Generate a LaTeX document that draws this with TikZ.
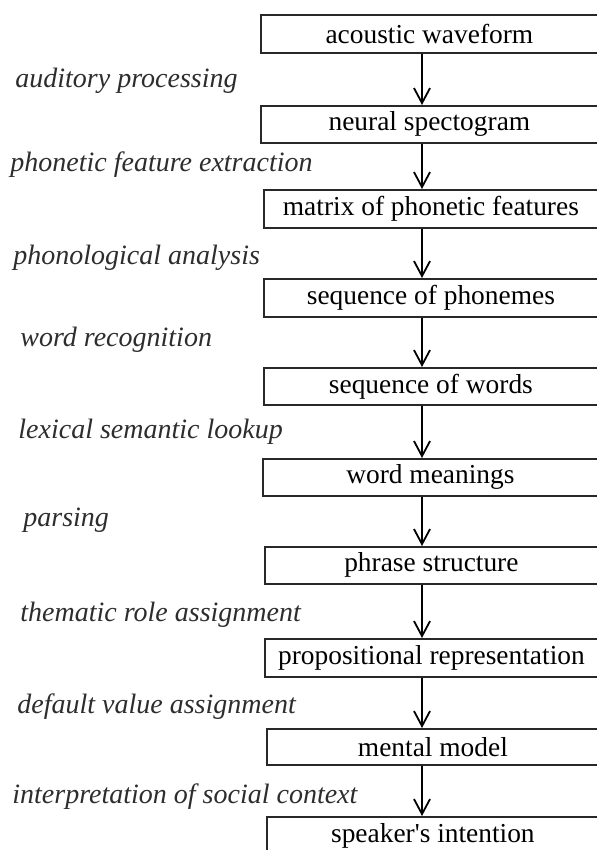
\documentclass[tikz,border=0pt]{standalone}
\usepackage{fontspec}
\setmainfont{Liberation Serif}
\usepackage{tikz}
\usetikzlibrary{positioning,calc}
\usetikzlibrary{arrows.meta}
\definecolor{EdgeGray}{RGB}{40,40,40}
\definecolor{TagGray}{RGB}{45,45,45}
\tikzset{
  stage/.style={draw=EdgeGray,line width=0.9pt,anchor=north west,inner sep=0pt,
    font=\fontsize{13.7}{16}\selectfont},
  proc/.style={anchor=west,inner sep=0pt,text=TagGray,
    font=\fontsize{14}{16}\selectfont\itshape},
  link/.style={draw=black,line width=0.9pt,-{Straight Barb[length=7.5pt,width=8pt,line width=0.9pt]}},
}

\begin{document}
\begin{tikzpicture}[x=1pt,y=-1pt]
\useasboundingbox (0,0) rectangle (298.5,425);
\coordinate (ax) at (211,0);
\node[stage,minimum width=168.5pt,minimum height=19pt] (s1) at (130,7) {acoustic waveform};
\node[stage,minimum width=168.5pt,minimum height=18.5pt] (s2) at (130,52.5) {neural spectogram};
\node[stage,minimum width=167pt,minimum height=19pt] (s3) at (131.5,94.5) {matrix of phonetic features};
\node[stage,minimum width=167pt,minimum height=19pt] (s4) at (131.5,139) {sequence of phonemes};
\node[stage,minimum width=167pt,minimum height=18.5pt] (s5) at (131.5,183.5) {sequence of words};
\node[stage,minimum width=167.5pt,minimum height=18.5pt] (s6) at (131,229) {word meanings};
\node[stage,minimum width=166.5pt,minimum height=18.5pt] (s7) at (132,273) {phrase structure};
\node[stage,minimum width=166.5pt,minimum height=19pt] (s8) at (132,319) {propositional representation};
\node[stage,minimum width=166pt,minimum height=18pt] (s9) at (133,364) {mental model};
\node[stage,minimum width=166pt,minimum height=19pt] (s10) at (133,408) {speaker\textquotesingle s intention};
\node[proc] (t1) at (7.5,40.5) {auditory processing};
\node[proc] (t2) at (5,82.5) {phonetic feature extraction};
\node[proc] (t3) at (6.5,129) {phonological analysis};
\node[proc] (t4) at (10,170) {word recognition};
\node[proc] (t5) at (9,216) {lexical semantic lookup};
\node[proc] (t6) at (11.5,260) {parsing};
\node[proc] (t7) at (10,307.5) {thematic role assignment};
\node[proc] (t8) at (8.5,353.5) {default value assignment};
\node[proc] (t9) at (6,398.5) {interpretation of social context};
\draw[link] (s1.south -| ax) -- (s2.north -| ax);
\draw[link] (s2.south -| ax) -- (s3.north -| ax);
\draw[link] (s3.south -| ax) -- (s4.north -| ax);
\draw[link] (s4.south -| ax) -- (s5.north -| ax);
\draw[link] (s5.south -| ax) -- (s6.north -| ax);
\draw[link] (s6.south -| ax) -- (s7.north -| ax);
\draw[link] (s7.south -| ax) -- (s8.north -| ax);
\draw[link] (s8.south -| ax) -- (s9.north -| ax);
\draw[link] (s9.south -| ax) -- (s10.north -| ax);
\end{tikzpicture}
\end{document}
